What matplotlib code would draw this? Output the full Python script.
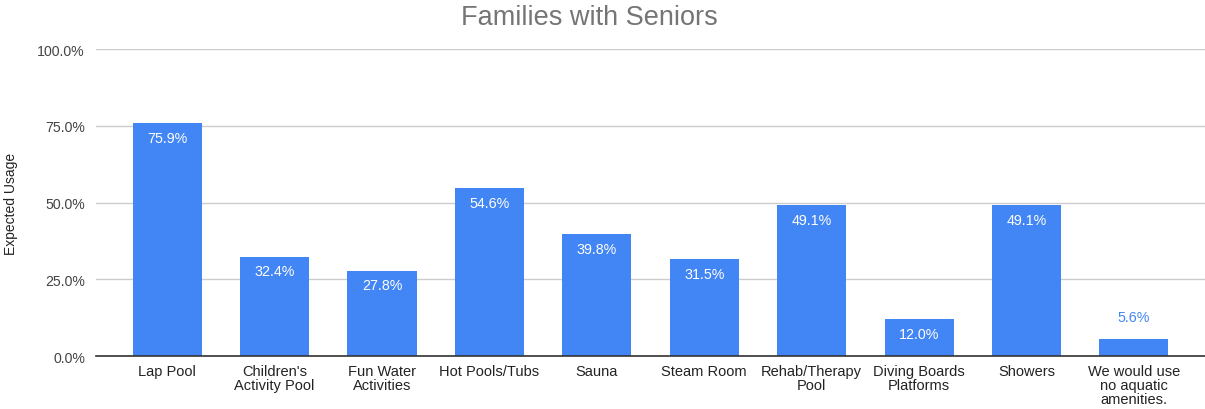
import matplotlib.pyplot as plt
from matplotlib.ticker import PercentFormatter

plt.rcParams['font.family'] = ['Liberation Sans', 'DejaVu Sans']

categories = ["Lap Pool", "Children's\nActivity Pool", "Fun Water\nActivities", "Hot Pools/Tubs",
              "Sauna", "Steam Room", "Rehab/Therapy\nPool", "Diving Boards\nPlatforms",
              "Showers", "We would use\nno aquatic\namenities."]
usage = [75.9, 32.4, 27.8, 54.6, 39.8, 31.5, 49.1, 12.0, 49.1, 5.6]
yticks = [0, 25, 50, 75, 100]

blue = '#4285F4'

fig = plt.figure(figsize=(12.05, 4.10), dpi=100)
ax = fig.add_axes([0.0797, 0.129, 0.9203, 0.749])

x = range(len(categories))
bars = ax.bar(x, usage, width=0.643, color=blue, zorder=3)

for b, v in zip(bars, usage):
    cx = b.get_x() + b.get_width() / 2
    if v > 8:
        ax.text(cx, v - 2.5, f"{v:.1f}%", ha='center', va='top', color='white', fontsize=10.3, zorder=4)
    else:
        ax.text(cx, v + 7, f"{v:.1f}%", ha='center', va='center', color=blue, fontsize=10.3, zorder=4)

ax.set_xlim(-0.662, 9.662)
ax.set_ylim(0, 100)
ax.set_yticks(yticks)
ax.yaxis.set_major_formatter(PercentFormatter(decimals=1))
ax.set_xticks(list(x))
ax.set_xticklabels(categories, fontsize=10.5, color='#222222', linespacing=1.0)
ax.tick_params(axis='y', labelsize=10.2, labelcolor='#444444', length=0, pad=8)
ax.tick_params(axis='x', length=0, pad=6)
ax.grid(axis='y', color='#cccccc', linewidth=1, zorder=0)
for s in ['top', 'right', 'left']:
    ax.spines[s].set_visible(False)
ax.spines['bottom'].set_color('#333333')
ax.spines['bottom'].set_linewidth(1.2)
ax.spines['bottom'].set_zorder(5)

ax.set_ylabel("Expected Usage", fontsize=10, color='#222222', labelpad=14)
fig.text(0.489, 0.955, "Families with Seniors", ha='center', va='center', fontsize=19.5, color='#757575')

fig.savefig('out.png', dpi=100)
